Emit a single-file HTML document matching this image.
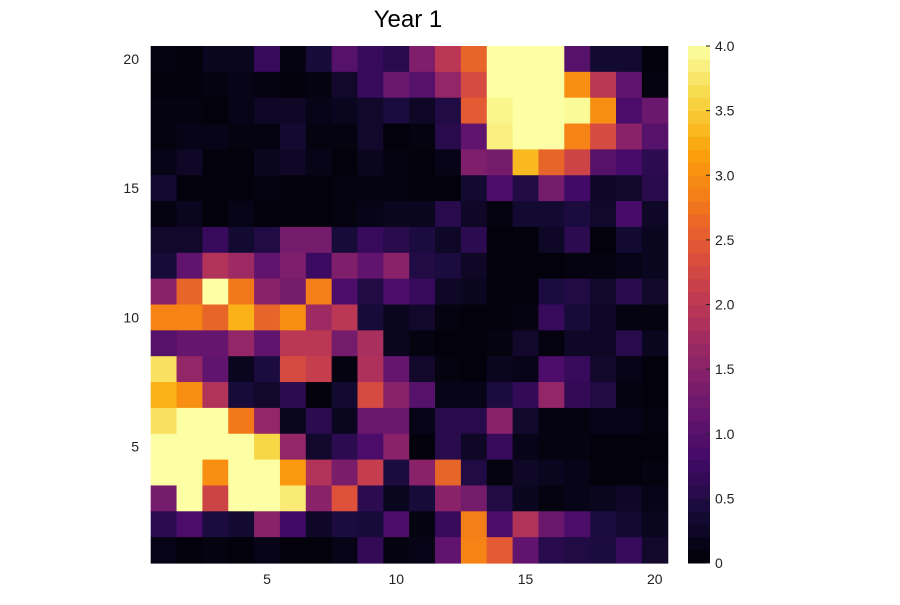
<!DOCTYPE html>
<html><head><meta charset="utf-8"><style>
body{margin:0;background:#fff;font-family:"Liberation Sans",sans-serif;}
svg text{font-family:"Liberation Sans",sans-serif;}
</style></head><body>
<svg id="chart" width="900" height="600" xmlns="http://www.w3.org/2000/svg">
<rect width="900" height="600" fill="#fff"/>
<text x="408" y="27" font-size="24" text-anchor="middle" fill="#000">Year 1</text>
<g id="cells"></g>
<g id="axes"></g>
<g id="cbar"></g>
</svg>
<script>
// rows listed from y=20 (top) to y=1 (bottom); columns x=1..20
const xTicks = [5, 10, 15, 20];
const yTicks = [5, 10, 15, 20];
const cbarTicks = ["0", "0.5", "1.0", "1.5", "2.0", "2.5", "3.0", "3.5", "4.0"];
const cbarValues = [0, 0.5, 1, 1.5, 2, 2.5, 3, 3.5, 4];
const zValues = [
[0.1,0.05,0.2,0.2,0.7,0.1,0.4,1.0,0.7,0.55, 1.4,2.0,2.6,4,4,4,1.0,0.35,0.35,0.05],
[0.05,0.05,0.1,0.15,0.1,0.05,0.1,0.3,0.7,1.2, 1.0,1.6,2.3,4,4,4,3.0,2.0,1.1,0.1],
[0.1,0.1,0.05,0.15,0.25,0.25,0.15,0.2,0.3,0.45, 0.25,0.5,2.5,3.9,4,4,3.95,3.0,0.9,1.2],
[0.1,0.15,0.15,0.1,0.1,0.35,0.1,0.1,0.3,0.05, 0.1,0.55,1.1,3.85,4,4,2.9,2.3,1.5,1.0],
[0.15,0.25,0.05,0.05,0.2,0.25,0.15,0.05,0.2,0.1, 0.05,0.15,1.4,1.3,3.35,2.6,2.2,1.0,0.85,0.6],
[0.35,0.05,0.05,0.05,0.1,0.05,0.05,0.1,0.1,0.1, 0.05,0.05,0.35,0.9,0.5,1.3,0.8,0.25,0.3,0.55],
[0.1,0.2,0.05,0.15,0.05,0.05,0.05,0.1,0.15,0.2, 0.2,0.55,0.25,0.1,0.35,0.35,0.45,0.3,0.85,0.25],
[0.3,0.3,0.7,0.35,0.5,1.3,1.3,0.4,0.7,0.55, 0.45,0.25,0.6,0.05,0.05,0.25,0.6,0.05,0.35,0.2],
[0.4,1.1,1.9,1.7,1.1,1.4,0.75,1.4,1.1,1.5, 0.5,0.45,0.25,0.05,0.05,0.05,0.1,0.1,0.15,0.2],
[1.5,2.6,4,2.8,1.5,1.3,2.85,0.9,0.5,0.9, 0.7,0.25,0.2,0.05,0.05,0.45,0.5,0.3,0.55,0.3],
[2.9,2.9,2.6,3.3,2.6,3.0,1.7,2.0,0.4,0.2, 0.3,0.1,0.05,0.05,0.1,0.7,0.4,0.25,0.1,0.1],
[1.0,1.15,1.15,1.6,1.1,2.0,2.0,1.3,1.8,0.2, 0.1,0.05,0.05,0.1,0.3,0.1,0.25,0.25,0.55,0.2],
[3.7,1.6,1.1,0.2,0.45,2.3,2.1,0.1,1.85,1.15, 0.3,0.1,0.05,0.2,0.15,0.9,0.7,0.3,0.15,0.05],
[3.3,3.0,1.9,0.4,0.3,0.6,0.05,0.35,2.3,1.5, 1.0,0.15,0.15,0.45,0.65,1.6,0.65,0.5,0.1,0.05],
[3.7,4,4,2.8,1.6,0.2,0.6,0.2,1.2,1.2, 0.15,0.55,0.55,1.5,0.3,0.1,0.1,0.15,0.15,0.1],
[4,4,4,4,3.6,1.6,0.3,0.6,0.9,1.5, 0.05,0.55,0.25,0.7,0.15,0.1,0.1,0.05,0.05,0.05],
[4,4,3.0,4,4,3.1,1.9,1.35,2.1,0.45, 1.5,2.6,0.5,0.1,0.25,0.2,0.15,0.05,0.05,0.1],
[1.3,4,2.2,4,4,3.8,1.5,2.4,0.6,0.2, 0.4,1.5,1.3,0.5,0.2,0.1,0.15,0.2,0.25,0.15],
[0.6,0.9,0.45,0.35,1.5,0.8,0.25,0.45,0.4,0.9, 0.1,0.7,2.85,0.9,1.9,1.2,0.9,0.45,0.35,0.2],
[0.15,0.05,0.1,0.05,0.15,0.05,0.05,0.15,0.65,0.1, 0.15,1.1,2.9,2.5,1.1,0.55,0.5,0.45,0.7,0.3]
];
const NS = "http://www.w3.org/2000/svg";
const L = 150.7, T = 46, W = 517, H = 517, N = 20;
const cw = W / N, ch = H / N;
const xCenter = v => L + (v - 0.5) * cw;
const yCenter = v => T + (N - v + 0.5) * ch;
const vmin = 0, vmax = 4;
const stops = ["#000004","#160b39","#420a68","#6a176e","#932667","#bc3754","#dd513a","#f37819","#fca50a","#f6d746","#fcffa4"];
function hex(h){return [1,3,5].map(i=>parseInt(h.substr(i,2),16));}
function inferno(t){
  t = Math.max(0, Math.min(1, t));
  const p = t * (stops.length - 1), i = Math.min(Math.floor(p), stops.length - 2), f = p - i;
  const a = hex(stops[i]), b = hex(stops[i+1]);
  return "rgb(" + a.map((c,k)=>Math.round(c + (b[k]-c)*f)).join(",") + ")";
}
function el(tag, attrs){const e=document.createElementNS(NS,tag);for(const k in attrs)e.setAttribute(k,attrs[k]);return e;}
const cells = document.getElementById("cells");
zValues.forEach((row, r) => {
  const yv = N - r;
  row.forEach((v, c) => {
    const xv = c + 1;
    const rect = el("rect", {x: xCenter(xv) - cw/2, y: yCenter(yv) - ch/2, width: cw + 0.6, height: ch + 0.6, fill: inferno((v - vmin) / (vmax - vmin))});
    
    
    cells.appendChild(rect);
  });
});
const axes = document.getElementById("axes");
xTicks.forEach(t => {
  const tx = el("text", {x: xCenter(t), y: 584, "font-size": 14, "text-anchor": "middle", fill: "#222"});
  tx.textContent = t;
  
  
  axes.appendChild(tx);
});
yTicks.forEach(t => {
  const tx = el("text", {x: 139, y: yCenter(t) + 5, "font-size": 14, "text-anchor": "end", fill: "#222"});
  tx.textContent = t;
  
  
  axes.appendChild(tx);
});
const cbar = document.getElementById("cbar");
const CX = 688, CW = 22, CT = 46, CH = 517, steps = 40;
for (let i = 0; i < steps; i++) {
  const r = el("rect", {x: CX, y: CT + CH - (i+1)*CH/steps, width: CW, height: CH/steps + 0.5, fill: inferno((i + 0.5) / steps)});
  
  
  cbar.appendChild(r);
}
cbarValues.forEach((v, i) => {
  const y = CT + CH - (v - vmin) / (vmax - vmin) * CH;
  const tk = el("line", {x1: CX + CW, x2: CX + CW - 4, y1: y, y2: y, stroke: "#222", "stroke-width": 1});
  
  
  cbar.appendChild(tk);
  const tx = el("text", {x: CX + CW + 5, y: y + 5, "font-size": 14, fill: "#222"});
  tx.textContent = cbarTicks[i];
  
  
  cbar.appendChild(tx);
});
</script>
</body></html>
